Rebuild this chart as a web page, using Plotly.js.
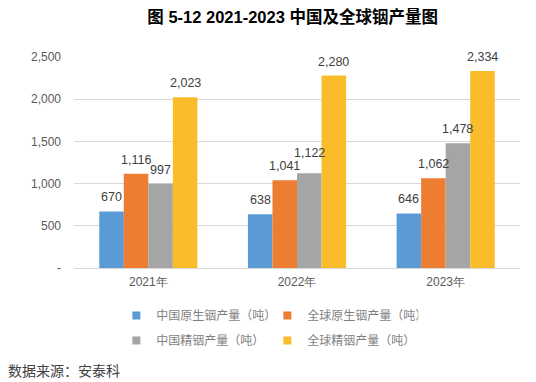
<!DOCTYPE html>
<html><head><meta charset="utf-8">
<script src="https://cdn.plot.ly/plotly-3.0.1.min.js"></script>
<style>body{margin:0;background:#fff}#c{width:536px;height:382px}</style>
</head><body><div id="c"></div>
<script>
const categories = ["2021年", "2022年", "2023年"];
const seriesNames = ["中国原生铟产量（吨）", "全球原生铟产量（吨）", "中国精铟产量（吨）", "全球精铟产量（吨）"];
const chinaPrimary = [670, 638, 646];
const globalPrimary = [1116, 1041, 1062];
const chinaRefined = [997, 1122, 1478];
const globalRefined = [2023, 2280, 2334];
const yTicks = [0, 500, 1000, 1500, 2000, 2500];
const yTickText = ["-", "500", "1,000", "1,500", "2,000", "2,500"];
const colors = ["#5B9BD5", "#ED7D31", "#A5A5A5", "#FBBC2C"];
const allSeries = [chinaPrimary, globalPrimary, chinaRefined, globalRefined];

const BARGAP = 0.34;
const fmt = v => v.toLocaleString("en-US");
const traces = [];
const annotations = [];
const nS = allSeries.length;
const bw = (1 - BARGAP) / nS;
allSeries.forEach((vals, i) => {
  traces.push({
    type: "bar", x: categories, y: vals, name: seriesNames[i],
    marker: {color: colors[i]}, showlegend: false, hoverinfo: "skip"
  });
  vals.forEach((v, j) => {
    // label shifted up where neighbouring labels would collide (as in the source chart)
    let lift = 5;
    if (i > 0 && Math.abs(v - allSeries[i - 1][j]) < 150 && v > allSeries[i - 1][j]) lift = 11;
    annotations.push({
      xref: "x", yref: "y", x: j + (i - (nS - 1) / 2) * bw, y: v,
      text: fmt(v), showarrow: false, yanchor: "bottom", yshift: lift,
      font: {family: "Liberation Sans, Arial", size: 12.5, color: "#404040"}
    });
  });
});
allSeries.forEach((vals, i) => {
  traces.push({
    type: "scatter", mode: "markers", x: [null], y: [null], name: seriesNames[i],
    legend: i < 2 ? "legend" : "legend2",
    marker: {symbol: "square", size: 8, color: colors[i]}, showlegend: true
  });
});
annotations.push({text: "数据来源：安泰科", xref: "paper", yref: "paper", x: -0.152, y: -0.426,
  xanchor: "left", yanchor: "top", showarrow: false,
  font: {family: "Noto Sans CJK SC", size: 14, color: "#404040"}});

const legendBase = {orientation: "h", xanchor: "left", yanchor: "top",
  entrywidth: 106, entrywidthmode: "pixels", itemwidth: 30, bgcolor: "rgba(0,0,0,0)",
  font: {family: "Noto Sans CJK SC", size: 12, color: "#7F7F7F"}};

const layout = {
  width: 536, height: 382,
  margin: {l: 74, r: 16, t: 57, b: 114},
  paper_bgcolor: "#fff", plot_bgcolor: "#fff",
  title: {text: "<b>图 5-12 2021-2023 中国及全球铟产量图</b>", x: 0.546, xanchor: "center", y: 0.955, yanchor: "middle",
    font: {family: "Liberation Sans, Noto Sans CJK SC", size: 16.5, color: "#000"}},
  barmode: "group", bargap: BARGAP, bargroupgap: 0,
  xaxis: {type: "category", showgrid: false, showline: false, ticks: "", ticklabelstandoff: 5,
    tickfont: {family: "Liberation Sans, Arial", size: 12, color: "#595959"}},
  yaxis: {range: [0, 2500], tickvals: yTicks, ticktext: yTickText, showgrid: true,
    gridcolor: "#D9D9D9", gridwidth: 1, zeroline: true, zerolinecolor: "#D9D9D9", zerolinewidth: 1,
    showline: false, ticks: "", ticklabelstandoff: 12,
    tickfont: {family: "Liberation Sans, Arial", size: 12, color: "#595959"}},
  legend: Object.assign({}, legendBase, {x: 0.095, y: -0.156}),
  legend2: Object.assign({}, legendBase, {x: 0.095, y: -0.275}),
  annotations: annotations
};
Plotly.newPlot("c", traces, layout, {displayModeBar: false, staticPlot: true});
</script></body></html>
